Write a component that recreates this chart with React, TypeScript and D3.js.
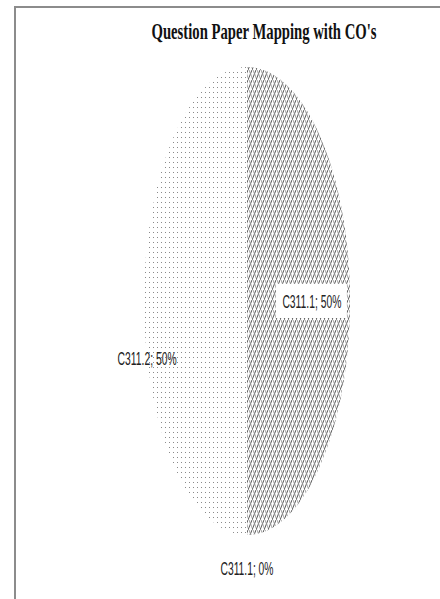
import React from "react";
import * as d3 from "d3";

const categories = ["C311.1", "C311.1", "C311.2"];
const values = [50, 0, 50];
const percentLabels = ["50%", "0%", "50%"];
const title = "Question Paper Mapping with CO's";

const W = 440;
const H = 599;

export default function App() {
  const cx = 247;
  const cy = 301;
  const rx = 103;
  const ry = 234;

  const pie = d3.pie<number>().sort(null).value((d) => d);
  const arcs = pie(values);

  const pt = (a: number, kx = 1, ky = 1) => [cx + rx * kx * Math.sin(a), cy - ry * ky * Math.cos(a)] as [number, number];

  const line = d3.line();
  const slicePath = (s: number, e: number) => {
    const n = Math.max(2, Math.ceil(((e - s) / (Math.PI * 2)) * 240));
    const pts: [number, number][] = [[cx, cy]];
    d3.range(n + 1).forEach((i) => pts.push(pt(s + ((e - s) * i) / n)));
    return line(pts) + "Z";
  };

  const fills = ["url(#hatch)", "url(#hatch)", "url(#dots)"];

  const labelPos = arcs.map((a, i) => {
    const mid = (a.startAngle + a.endAngle) / 2;
    if (i === 0) return pt(mid, 0.63, 0.6);
    if (i === 1) return pt(mid, 1.1, 1.14);
    const p = pt(mid, 0.97, 1);
    return [p[0], p[1] + 57] as [number, number];
  });

  return (
    <svg width={W} height={H} style={{ position: "absolute", left: 0, top: 0 }}>
      <defs>
        <pattern id="dots" patternUnits="userSpaceOnUse" width={4} height={5}>
          <rect width={4} height={5} fill="#fff" />
          <rect x={1} y={2} width={1} height={1} fill="#8a8a8a" />
        </pattern>
        <pattern id="hatch" patternUnits="userSpaceOnUse" width={4} height={10}>
          <rect width={4} height={10} fill="#fff" />
          <path d="M-1,12.5 L5,-2.5" stroke="#444" strokeWidth={0.9} />
          <path d="M-1,-5 L5,10 M1,0 L7,15" stroke="#999" strokeWidth={0.6} />
        </pattern>
      </defs>
      <rect x={0} y={0} width={W} height={H} fill="#fff" />
      <path d={`M15,${H} L15,7 L${W},7`} fill="none" stroke="#8c8c8c" strokeWidth={2} />
      <text
        x={264}
        y={39}
        textAnchor="middle"
        fontFamily="Liberation Serif, serif"
        fontWeight="bold"
        fontSize={23}
        textLength={225}
        lengthAdjust="spacingAndGlyphs"
        fill="#111"
      >
        {title}
      </text>
      {arcs.map((a, i) =>
        a.endAngle - a.startAngle > 0 ? (
          <path key={i} d={slicePath(a.startAngle, a.endAngle)} fill={fills[i]} />
        ) : null
      )}
      {arcs.map((a, i) => {
        const [x, y] = labelPos[i];
        const txt = `${categories[i]}; ${percentLabels[i]}`;
        const len = i === 1 ? 53 : 59;
        return (
          <g key={"l" + i}>
            {i === 0 && <rect x={x - 36} y={y - 17} width={71} height={34} fill="#fff" />}
            <text
              x={x}
              y={y + 7}
              textAnchor="middle"
              fontFamily="Liberation Sans Narrow, Liberation Sans, sans-serif"
              fontSize={18.5}
              textLength={len}
              lengthAdjust="spacingAndGlyphs"
              fill="#222"
            >
              {txt}
            </text>
          </g>
        );
      })}
    </svg>
  );
}
